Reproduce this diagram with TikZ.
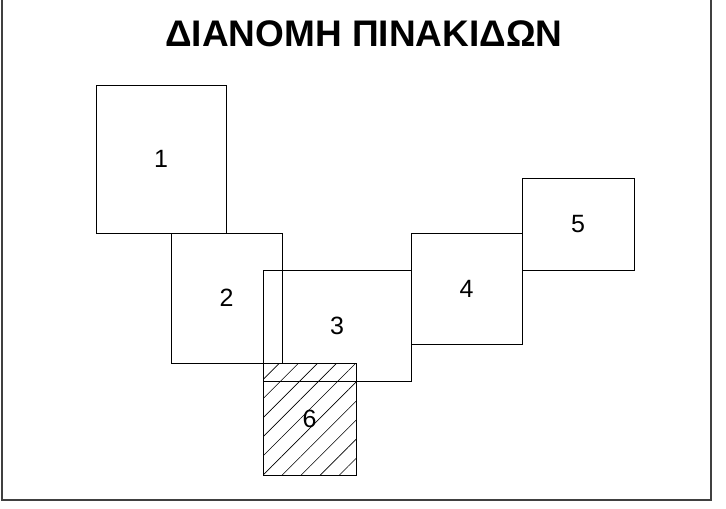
\documentclass[tikz,border=0pt]{standalone}
\usepackage{fontspec}
\setmainfont{Liberation Sans}
\usetikzlibrary{patterns.meta}

\begin{document}
\begin{tikzpicture}[x=1pt, y=-1pt, thin,
    every node/.style = {draw, rectangle, inner sep=0pt, font=\fontsize{25}{25}\selectfont},
    frame/.style = {draw=black!75, line width=1.6pt},
    hatched/.style = {pattern={Lines[angle=45, distance=13.5pt, line width=0.6pt]}}]
\useasboundingbox (0,0) rectangle (726,509);
\draw[frame] (2,-5) rectangle (711,500);

\node[draw=none, font=\fontsize{37}{37}\selectfont\bfseries] (T) at (364,34) {ΔΙΑΝΟΜΗ ΠΙΝΑΚΙΔΩΝ};

\node[minimum width=130pt, minimum height=148pt] (P1) at (161,159)   {1};
\node[minimum width=111pt, minimum height=130pt] (P2) at (226.5,298) {2};
\node[minimum width=148pt, minimum height=111pt] (P3) at (337,326)   {3};
\node[minimum width=111pt, minimum height=111pt] (P4) at (466.5,288.5) {4};
\node[minimum width=112pt, minimum height=92pt]  (P5) at (578,224)   {5};
\node[hatched, minimum width=93pt, minimum height=112pt] (P6) at (309.5,419) {6};

\end{tikzpicture}
\end{document}
